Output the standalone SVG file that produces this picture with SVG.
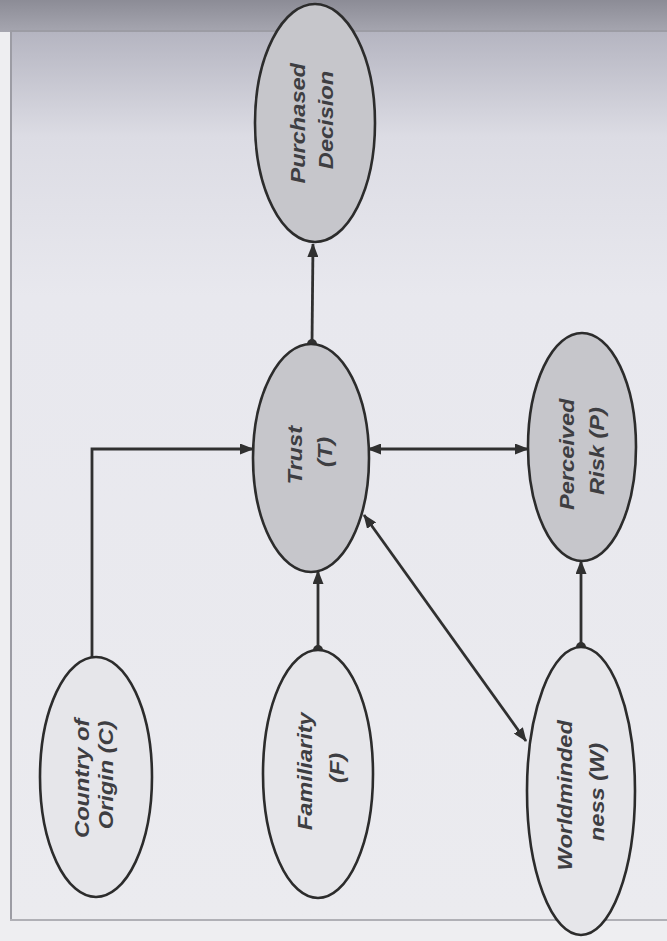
<svg xmlns="http://www.w3.org/2000/svg" width="667" height="941" viewBox="0 0 667 941">
  <defs>
    <linearGradient id="topShade" x1="0" y1="0" x2="0" y2="1">
      <stop offset="0" stop-color="#8c8c96"/>
      <stop offset="1" stop-color="#a6a6b0"/>
    </linearGradient>
    <linearGradient id="pageShade" x1="0" y1="0" x2="0" y2="1">
      <stop offset="0" stop-color="#b4b4c0"/>
      <stop offset="0.12" stop-color="#dcdce4"/>
      <stop offset="0.3" stop-color="#e8e8ee"/>
      <stop offset="1" stop-color="#ebebef"/>
    </linearGradient>
    <marker id="arrow" viewBox="0 0 14 11" refX="13" refY="5.5" markerWidth="14" markerHeight="11" markerUnits="userSpaceOnUse" orient="auto-start-reverse">
      <path d="M0,0 L14,5.5 L0,11 Z" fill="#303030"/>
    </marker>
    <marker id="dot" viewBox="0 0 10 10" refX="5" refY="5" markerWidth="10" markerHeight="10" markerUnits="userSpaceOnUse">
      <circle cx="5" cy="5" r="5" fill="#303030"/>
    </marker>
    <style>
      .node { stroke: #2c2c2c; stroke-width: 2.6; }
      .dark { fill: #c6c6cb; }
      .light { fill: #e6e6ea; }
      .lbl { font-family: "Liberation Sans", Arial, sans-serif; font-size: 20px; font-weight: bold; font-style: italic; fill: #3e3e42; text-anchor: middle; dominant-baseline: central; }
      .edge { fill: none; stroke: #303030; stroke-width: 2.8; }
    </style>
  </defs>

  <!-- page background -->
  <rect x="0" y="0" width="667" height="941" fill="#eeeef1"/>
  <rect x="0" y="0" width="667" height="32" fill="url(#topShade)"/>
  <rect x="10" y="30" width="657" height="890" fill="url(#pageShade)"/>
  <path d="M11,920 V31 H667" fill="none" stroke="#9c9ca4" stroke-width="2"/>
  <line x1="10" y1="920" x2="667" y2="920" stroke="#b0b0b6" stroke-width="2"/>

  <!-- connectors -->
  <g id="connectors">
    <line class="edge" x1="312" y1="344" x2="313" y2="244" marker-start="url(#dot)" marker-end="url(#arrow)"/>
    <path class="edge" d="M92,657 V449 H253" marker-end="url(#arrow)"/>
    <line class="edge" x1="318" y1="650" x2="318" y2="571" marker-start="url(#dot)" marker-end="url(#arrow)"/>
    <line class="edge" x1="368" y1="449" x2="528" y2="449" marker-start="url(#arrow)" marker-end="url(#arrow)"/>
    <line class="edge" x1="526" y1="741" x2="364" y2="515" marker-start="url(#arrow)" marker-end="url(#arrow)"/>
    <line class="edge" x1="581" y1="647" x2="581" y2="561" marker-start="url(#dot)" marker-end="url(#arrow)"/>
  </g>

  <!-- nodes -->
  <g id="purchased-decision">
    <ellipse class="node dark" cx="315" cy="123" rx="60" ry="119"/>
    <text class="lbl" transform="translate(312,120) rotate(-90) scale(1.18,1)">
      <tspan x="0" y="-14">Purchased</tspan>
      <tspan x="0" y="14">Decision</tspan>
    </text>
  </g>

  <g id="trust">
    <ellipse class="node dark" cx="311" cy="458" rx="58" ry="114"/>
    <text class="lbl" transform="translate(310,452) rotate(-90) scale(1.18,1)">
      <tspan x="0" y="-15">Trust</tspan>
      <tspan x="0" y="15">(T)</tspan>
    </text>
  </g>

  <g id="perceived-risk">
    <ellipse class="node dark" cx="582" cy="447" rx="54" ry="114"/>
    <text class="lbl" transform="translate(582,451) rotate(-90) scale(1.18,1)">
      <tspan x="0" y="-15">Perceived</tspan>
      <tspan x="0" y="15">Risk (P)</tspan>
    </text>
  </g>

  <g id="country-of-origin">
    <ellipse class="node light" cx="96" cy="777" rx="56" ry="120"/>
    <text class="lbl" transform="translate(94,775) rotate(-90) scale(1.18,1)">
      <tspan x="0" y="-12">Country of</tspan>
      <tspan x="0" y="12">Origin (C)</tspan>
    </text>
  </g>

  <g id="familiarity">
    <ellipse class="node light" cx="318" cy="774" rx="55" ry="124"/>
    <text class="lbl" transform="translate(321,768) rotate(-90) scale(1.18,1)">
      <tspan x="0" y="-16">Familiarity</tspan>
      <tspan x="0" y="16">(F)</tspan>
    </text>
  </g>

  <g id="worldmindedness">
    <ellipse class="node light" cx="581" cy="791" rx="54" ry="144"/>
    <text class="lbl" transform="translate(581,792) rotate(-90) scale(1.18,1)">
      <tspan x="0" y="-16">Worldminded</tspan>
      <tspan x="0" y="16">ness (W)</tspan>
    </text>
  </g>
</svg>
